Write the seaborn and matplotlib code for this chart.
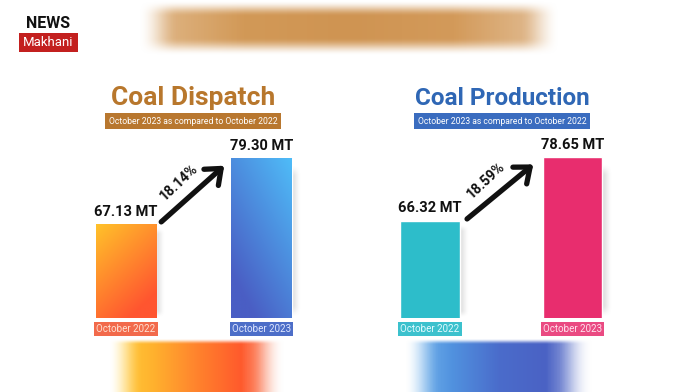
import numpy as np
import matplotlib
matplotlib.use("Agg")
import matplotlib.pyplot as plt
import seaborn as sns
from matplotlib.colors import LinearSegmentedColormap

# ---------------- data ----------------
periods = ["October 2022", "October 2023"]
dispatch_mt = [67.13, 79.30]
production_mt = [66.32, 78.65]
dispatch_growth = "18.14%"
production_growth = "18.59%"
panel_titles = ["Coal Dispatch", "Coal Production"]
subtitle = "October 2023 as compared to October 2022"

sns.set_theme(style="white")
plt.rcParams["font.family"] = ["Roboto", "DejaVu Sans"]
plt.rcParams["font.stretch"] = "condensed"

W, H = 696, 392
fig = plt.figure(figsize=(6.96, 3.92), dpi=100)
fig.patch.set_facecolor("white")
bg = fig.add_axes([0, 0, 1, 1], zorder=0)
bg.axis("off")


def smooth(a):
    return a * a * (3 - 2 * a)


def soft_band(ax, x0, x1, y0, y1, colors, sx=20, sy_top=15, sy_bot=15, alpha=1.0):
    nx, ny = int(x1 - x0), int(y1 - y0)
    cmap = LinearSegmentedColormap.from_list("g", colors)
    rgb = cmap(np.linspace(0, 1, nx))[:, :3]
    img = np.zeros((ny, nx, 4))
    img[..., :3] = rgb[None, :, :]
    px = np.arange(nx)
    py = np.arange(ny)
    axm = np.clip(np.minimum(px, nx - 1 - px) / sx, 0, 1)
    top = np.clip(py / sy_top, 0, 1) if sy_top > 0 else np.ones(ny)
    bot = np.clip((ny - 1 - py) / sy_bot, 0, 1) if sy_bot > 0 else np.ones(ny)
    aym = np.minimum(top, bot)
    img[..., 3] = np.outer(smooth(aym), smooth(axm)) * alpha
    ax.imshow(img, extent=(x0, x1, y1, y0), interpolation="bilinear",
              aspect="auto", zorder=1)


# header blur and bottom blurred bands (decorative)
soft_band(bg, 138, 560, 0, 56, ["#e2bb8e", "#d29957", "#cf9452", "#d39a5a", "#e4c29c"], sx=40, sy_top=16, sy_bot=18)
soft_band(bg, 108, 286, 338, 400, ["#ffd43c", "#ffb22e", "#ff832d", "#ff5a2c", "#f9d2c4"], sx=34, sy_top=6, sy_bot=0)
soft_band(bg, 404, 594, 338, 400, ["#7fc0f0", "#5192df", "#4a6ccb", "#4a62c4", "#d6dcf2"], sx=36, sy_top=6, sy_bot=0)
bg.set_xlim(0, W)
bg.set_ylim(H, 0)

# logo
bg.text(48, 23.5, "NEWS", ha="center", va="center", fontsize=11.5, fontweight="bold",
        color="#111111", zorder=3)
bg.add_patch(plt.Rectangle((19, 33), 59, 19, facecolor="#c3201f", edgecolor="none", zorder=2))
bg.text(48.5, 42.5, "Makhani", ha="center", va="center", fontsize=9.5, color="white", zorder=3)


def px_axes(x0, x1, y0, y1):
    return fig.add_axes([x0 / W, 1 - y1 / H, (x1 - x0) / W, (y1 - y0) / H], zorder=2)


def gradient_fill(ax, patch, c0, c1, wx, wy, ylo):
    x, w = patch.get_x(), patch.get_width()
    ytop = patch.get_y() + patch.get_height()
    n = 120
    u = np.linspace(0, 1, n)
    U, V = np.meshgrid(u, u)
    t = np.clip((U if wx >= 0 else 1 - U) * abs(wx) + V * wy, 0, 1)
    cmap = LinearSegmentedColormap.from_list("b", [c0, c1])
    im = ax.imshow(cmap(t), extent=(x, x + w, ylo, ytop), origin="upper",
                   aspect="auto", interpolation="bilinear", zorder=patch.get_zorder() + 0.1)
    im.set_clip_path(patch)


def soft_shadow(ax, patch, ylo):
    # subtle grey drop shadow to the right of a bar
    x, w = patch.get_x(), patch.get_width()
    ytop = patch.get_y() + patch.get_height()
    nx, ny = 60, 100
    u = np.linspace(0, 1, nx)
    v = np.linspace(0, 1, ny)
    ax_a = np.clip(np.minimum(u, 1 - u) / 0.18, 0, 1)
    ay_a = np.clip(np.minimum(v, 1 - v) / 0.08, 0, 1)
    img = np.zeros((ny, nx, 4))
    img[..., :3] = 0.35
    img[..., 3] = np.outer(smooth(ay_a), smooth(ax_a)) * 0.22
    ax.imshow(img, extent=(x + w * 0.12, x + w * 1.16, ylo, ytop - (ytop - ylo) * 0.04),
              origin="upper", aspect="auto", interpolation="bilinear",
              zorder=patch.get_zorder() - 0.5)


panels = [
    dict(vals=dispatch_mt, growth=dispatch_growth, title=panel_titles[0],
         xr=(58.25, 329.25), ylim=(49.8, 97.4), width=0.443,
         title_c="#b8772c", sub_c="#b8772f", tcx=193, tfs=19,
         colors=["#ff8a2a", "#4a7fd6"],
         grads=[("#ffc22a", "#ff5530", 0.45, 0.75), ("#4fbcf8", "#4a5ec4", -0.5, 0.7)],
         lab_bg=["#f26a4b", "#4d6ec8"], lab_fc=["#ffe1d2", "#dfe7ff"]),
    dict(vals=production_mt, growth=production_growth, title=panel_titles[1],
         xr=(358.75, 643.75), ylim=(47.6, 97.4), width=0.42,
         title_c="#2f67b5", sub_c="#3a6cbf", tcx=502, tfs=17.5,
         colors=["#2dbdca", "#e82d6e"], grads=None,
         lab_bg=["#3cc1cd", "#ea4a82"], lab_fc=["#e2fbff", "#ffe2ee"]),
]

for p in panels:
    ax = px_axes(p["xr"][0], p["xr"][1], 60, 318)
    ax.set_facecolor("none")
    sns.barplot(x=periods, y=p["vals"], hue=periods, palette=p["colors"],
                width=p["width"], legend=False, ax=ax, saturation=1)
    for patch in list(ax.patches):
        soft_shadow(ax, patch, p["ylim"][0])
    if p["grads"]:
        for patch, (c0, c1, wx, wy) in zip(ax.patches, p["grads"]):
            gradient_fill(ax, patch, c0, c1, wx, wy, p["ylim"][0])
    ax.set_ylim(*p["ylim"])
    ax.set_xlim(-0.5, 1.5)
    for s in ax.spines.values():
        s.set_visible(False)
    ax.set_yticks([])
    ax.set_ylabel("")
    ax.set_xlabel("")
    # value labels
    for i, cont in enumerate(ax.containers):
        ax.bar_label(cont, labels=[f"{p['vals'][i]:.2f} MT"], padding=4,
                     fontsize=10.5, fontweight="bold", color="#111111")
    # category labels
    ax.set_xticks([0, 1])
    ax.set_xticklabels(periods)
    ax.tick_params(axis="x", length=0, pad=4.5)
    for lbl, bgc, fc in zip(ax.get_xticklabels(), p["lab_bg"], p["lab_fc"]):
        lbl.set_fontsize(7)
        lbl.set_color(fc)
        lbl.set_bbox(dict(boxstyle="square,pad=0.2", facecolor=bgc, edgecolor="none"))
    # growth arrow
    v0, v1 = p["vals"]
    tail = (0.26, v0 + 0.4)
    head = (0.725, v1 - 1.4)
    ax.annotate("", xy=head, xytext=tail,
                arrowprops=dict(arrowstyle="->,head_length=0.8,head_width=0.65",
                                lw=3.8, color="#111111", shrinkA=0, shrinkB=0))
    mid = ((tail[0] + head[0]) / 2, (tail[1] + head[1]) / 2)
    ax.annotate(p["growth"], xy=mid, xytext=(-10, 8.5),
                textcoords="offset points", rotation=43, rotation_mode="anchor",
                ha="center", va="center", fontsize=10, fontweight="bold", color="#111111")
    # titles
    bg.text(p["tcx"], 98, p["title"], ha="center", va="center", fontsize=p["tfs"],
            fontweight="bold", color=p["title_c"], zorder=3)
    bg.text(p["tcx"], 121, subtitle, ha="center", va="center", fontsize=6.2,
            color="white", zorder=3,
            bbox=dict(boxstyle="square,pad=0.45", facecolor=p["sub_c"], edgecolor="none"))

fig.savefig("out.png", dpi=100, facecolor="white")
